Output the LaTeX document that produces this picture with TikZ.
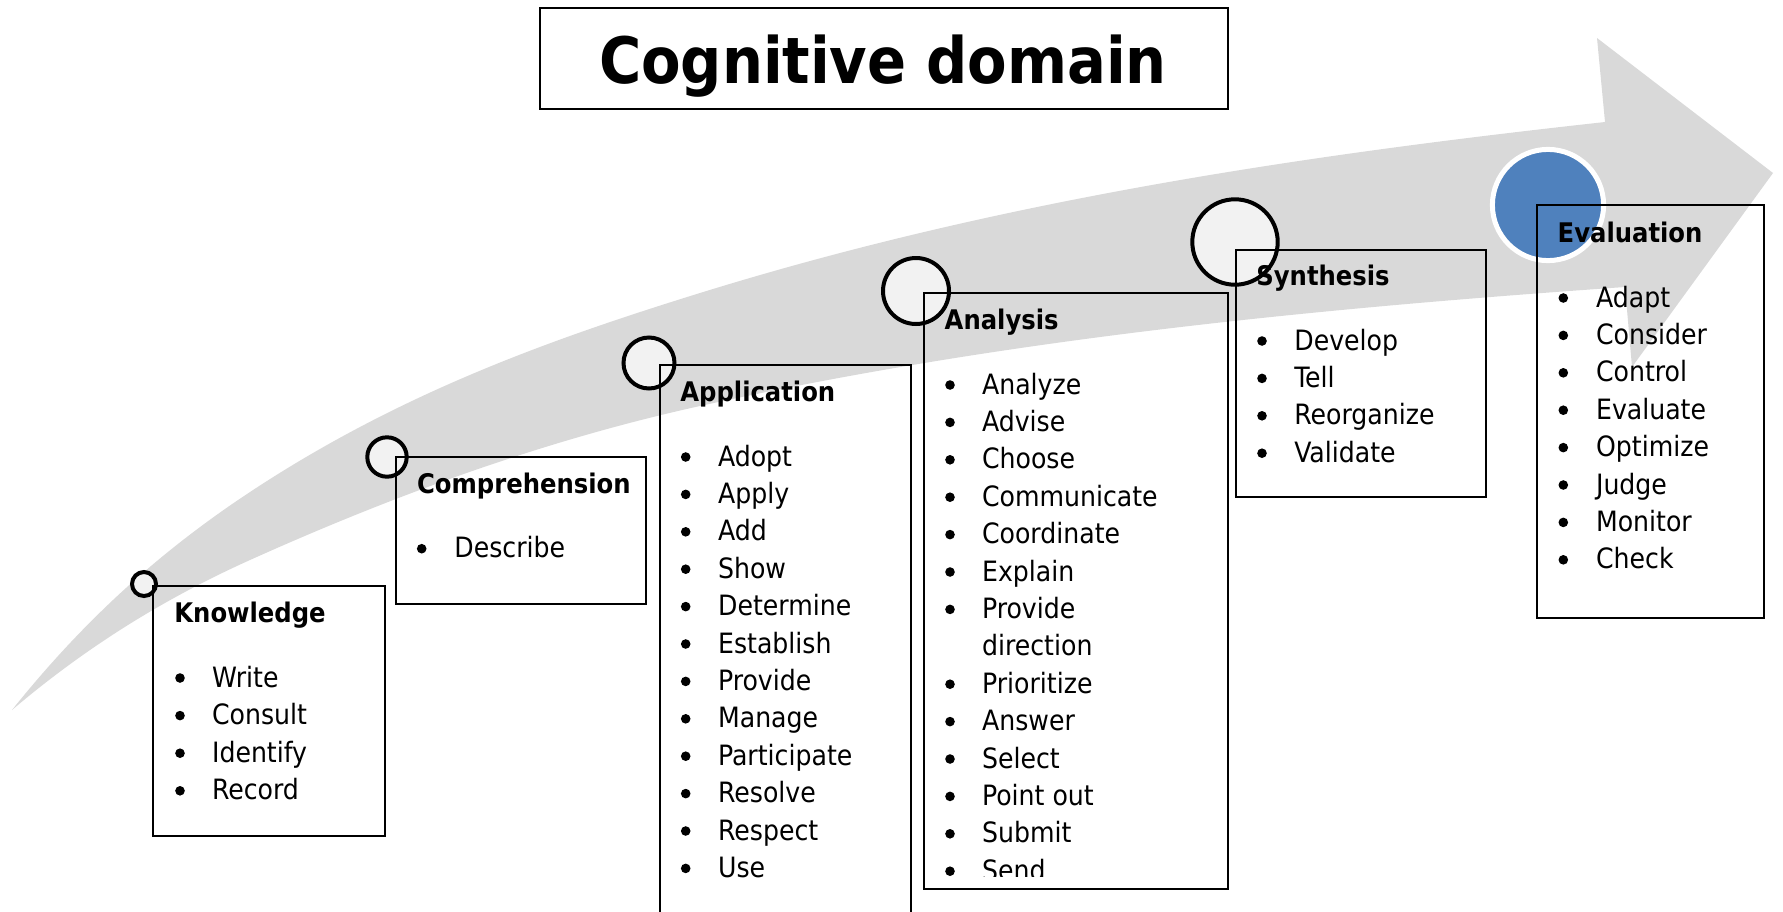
\documentclass[tikz,border=0pt]{standalone}
\usepackage{fontspec}
\setmainfont{DejaVu Sans Condensed}
\definecolor{bandgray}{HTML}{D9D9D9}
\definecolor{dotfill}{HTML}{F2F2F2}
\definecolor{evalblue}{HTML}{4F81BD}
\tikzset{
  stagebox/.style={draw=black, line width=1pt, anchor=north west, inner sep=0pt, fill=none},
  stagedot/.style={circle, draw=black, line width=2pt, fill=dotfill, inner sep=0pt},
  headtxt/.style={anchor=base west, inner sep=0pt, font=\bfseries\fontsize{13.5}{16}\selectfont},
  itemtxt/.style={anchor=base west, inner sep=0pt, font=\fontsize{14}{16}\selectfont},
  bulletdot/.style={circle, fill=black, inner sep=0pt, minimum size=4.8pt},
}
\begin{document}
\begin{tikzpicture}[x=0.5pt, y=-0.5pt]
\useasboundingbox (0,0) rectangle (1783,911);
% curved arrow band
\fill[bandgray] (12,710)
  .. controls (91.3,610.8) and (170.7,544.4) .. (250,492)
  .. controls (400,393) and (550,339.5) .. (700,293)
  .. controls (1001.7,199.5) and (1303.3,155.2) .. (1605,122)
  -- (1597,38) -- (1773,173) -- (1632,367) -- (1625,287)
  .. controls (1316.7,308.6) and (1008.3,338.2) .. (700,406)
  .. controls (550,439) and (400,492.5) .. (250,560)
  .. controls (170.7,595.7) and (91.3,642.6) .. (12,710)
  -- cycle;

% title
\node[draw=black, line width=1.1pt, anchor=north west, minimum width=344pt, minimum height=50.5pt, inner sep=0pt] (titlebox) at (539,7) {};
\node[anchor=base, inner sep=0pt, font=\bfseries\fontsize{32}{38}\selectfont] (title) at (883,83) {Cognitive domain};

% circles
\node[stagedot, minimum size=12pt] (kdot) at (144,584) {};
\node[stagedot, minimum size=19.7pt] (cdot) at (387,457) {};
\node[stagedot, minimum size=25.5pt] (apdot) at (649,363) {};
\node[stagedot, minimum size=33pt] (andot) at (916,291) {};
\node[stagedot, minimum size=42.7pt] (sdot) at (1235,242) {};
\node[circle, fill=evalblue, draw=white, line width=2.5pt, minimum size=55.6pt, inner sep=0pt] (edot) at (1548,205) {};

% boxes
\node[stagebox, minimum width=116pt, minimum height=125pt] (kbox) at (152,585) {};
\node[stagebox, minimum width=125pt, minimum height=73.5pt] (cbox) at (395,456) {};
\node[stagebox, minimum width=125.5pt, minimum height=277pt] (apbox) at (659,364) {};
\node[stagebox, minimum width=152pt, minimum height=298pt] (anbox) at (923,292) {};
\node[stagebox, minimum width=125pt, minimum height=123.5pt] (sbox) at (1235,249) {};
\node[stagebox, minimum width=113.5pt, minimum height=206.5pt] (ebox) at (1536,204) {};

% Knowledge
\node[headtxt] (khead) at (174,622) {Knowledge};
\foreach \t [count=\i from 0] in {Write,Consult,Identify,Record} {
  \node[bulletdot] (kb\i) at (180,687+37.6*\i-9) {};
  \node[itemtxt] (kt\i) at (211.7,687+37.6*\i) {\t};
}

% Comprehension
\node[headtxt] (chead) at (416.7,493.3) {Comprehension};
\node[bulletdot] (cb0) at (421.7,548.7) {};
\node[itemtxt] (ct0) at (454,557.7) {Describe};

% Application
\node[headtxt] (aphead) at (680,401) {Application};
\foreach \t [count=\i from 0] in {Adopt,Apply,Add,Show,Determine,Establish,Provide,Manage,Participate,Resolve,Respect,Use} {
  \node[bulletdot] (apb\i) at (685.7,466+37.4*\i-9) {};
  \node[itemtxt] (apt\i) at (717.7,466+37.4*\i) {\t};
}

% Analysis
\node[headtxt] (anhead) at (944.3,329) {Analysis};
\begin{scope}
\clip (923,292) rectangle (1227,876);
\foreach \t [count=\i from 0] in {Analyze,Advise,Choose,Communicate,Coordinate,Explain,Provide,direction,Prioritize,Answer,Select,Point out,Submit,Send} {
  \node[itemtxt] (ant\i) at (981.7,394+37.4*\i) {\t};
}
\foreach \i in {0,1,2,3,4,5,6,8,9,10,11,12,13} {
  \node[bulletdot] (anb\i) at (950,394+37.4*\i-9) {};
}
\end{scope}

% Synthesis
\node[headtxt] (shead) at (1256,285) {Synthesis};
\foreach \t [count=\i from 0] in {Develop,Tell,Reorganize,Validate} {
  \node[bulletdot] (sb\i) at (1262,350+37.4*\i-9) {};
  \node[itemtxt] (st\i) at (1294,350+37.4*\i) {\t};
}

% Evaluation
\node[headtxt] (ehead) at (1557.3,242) {Evaluation};
\foreach \t [count=\i from 0] in {Adapt,Consider,Control,Evaluate,Optimize,Judge,Monitor,Check} {
  \node[bulletdot] (eb\i) at (1563.3,307+37.4*\i-9) {};
  \node[itemtxt] (et\i) at (1595.7,307+37.4*\i) {\t};
}
\end{tikzpicture}
\end{document}
